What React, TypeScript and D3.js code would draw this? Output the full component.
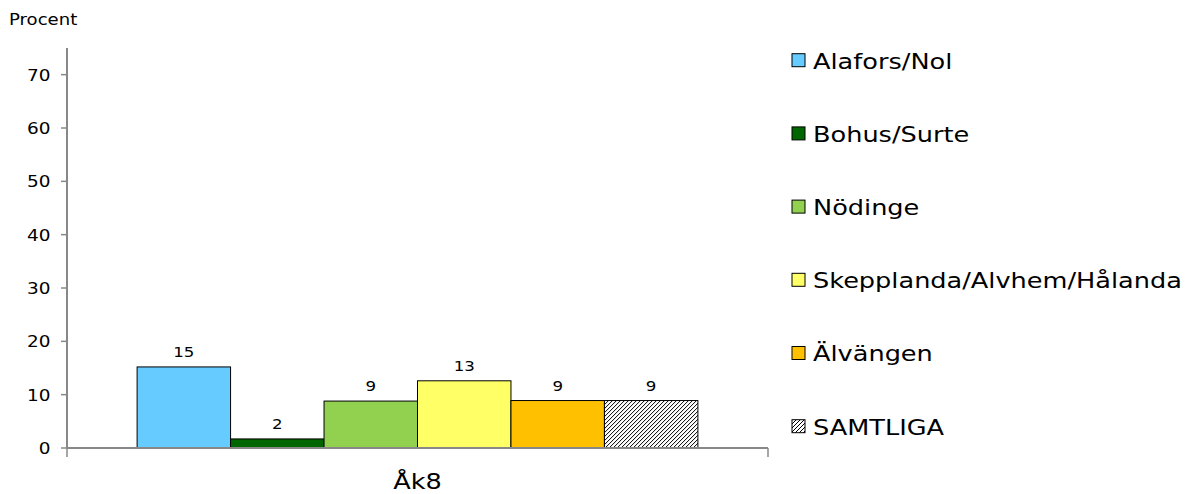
import React from "react";
import * as d3 from "d3";

const categories = ["Åk8"];
const seriesNames = ["Alafors/Nol", "Bohus/Surte", "Nödinge", "Skepplanda/Alvhem/Hålanda", "Älvängen", "SAMTLIGA"];
const seriesValues = [15.2, 1.7, 8.8, 12.6, 8.9, 8.9];
const valueLabels = ["15", "2", "9", "13", "9", "9"];
const seriesColors = ["#66CCFF", "#006600", "#92D050", "#FFFF66", "#FFC000", "url(#hatch)"];
const yTicks = [0, 10, 20, 30, 40, 50, 60, 70];

const W = 1190;
const H = 494;
const SX = 1.19;
const FONT = "'DejaVu Sans', Verdana, sans-serif";

function SText({ x, y, size, anchor = "start", children }: any) {
  return (
    <text
      transform={`translate(${x},${y}) scale(${SX},1)`}
      fontSize={size}
      fontFamily={FONT}
      textAnchor={anchor}
      fill="#000"
    >
      {children}
    </text>
  );
}

export default function App() {
  const left = 67;
  const right = 768;
  const top = 48;
  const bottom = 448;

  const y = d3.scaleLinear().domain([0, 75]).range([bottom, top]);
  const x0 = d3.scaleBand<string>().domain(categories).range([left, right]).paddingInner(0.2).paddingOuter(0.1);
  const x1 = d3.scaleBand<string>().domain(seriesNames).range([0, x0.bandwidth()]).padding(0);

  const legendX = 792;
  const legendY0 = 60.7;
  const legendStep = 73.2;

  return (
    <svg width={W} height={H} style={{ position: "absolute", left: 0, top: 0, background: "#fff" }}>
      <defs>
        <pattern id="hatch" patternUnits="userSpaceOnUse" width="4" height="4">
          <rect width="4" height="4" fill="#fff" />
          <path d="M-1,1 l2,-2 M0,4 l4,-4 M3,5 l2,-2" stroke="#000" strokeWidth="1" />
        </pattern>
      </defs>
      <rect width={W} height={H} fill="#fff" />

      <SText x={9} y={25} size={15.2}>Procent</SText>

      {/* bars */}
      {categories.map((c) => (
        <g key={c} transform={`translate(${x0(c)},0)`}>
          {seriesNames.map((s, i) => {
            const bx = x1(s)!;
            const by = y(seriesValues[i]);
            return (
              <g key={s}>
                <rect
                  x={bx}
                  y={by}
                  width={x1.bandwidth()}
                  height={bottom - by}
                  fill={seriesColors[i]}
                  stroke="#000"
                  strokeWidth={1}
                />
                <SText x={bx + x1.bandwidth() / 2} y={by - 10} size={14} anchor="middle">
                  {valueLabels[i]}
                </SText>
              </g>
            );
          })}
        </g>
      ))}

      {/* y axis */}
      <line x1={left} x2={left} y1={top} y2={bottom} stroke="#888" strokeWidth={2} />
      {yTicks.map((t) => (
        <g key={t}>
          <line x1={left - 6} x2={left} y1={y(t)} y2={y(t)} stroke="#888" strokeWidth={1.5} />
          <SText x={50.5} y={y(t) + 6} size={15.5} anchor="end">{t}</SText>
        </g>
      ))}

      {/* x axis */}
      <line x1={left} x2={right} y1={bottom} y2={bottom} stroke="#888" strokeWidth={2} />
      <line x1={left} x2={left} y1={bottom} y2={bottom + 9} stroke="#888" strokeWidth={1.5} />
      <line x1={right} x2={right} y1={bottom} y2={bottom + 9} stroke="#888" strokeWidth={1.5} />
      {categories.map((c) => (
        <SText key={c} x={x0(c)! + x0.bandwidth() / 2} y={489} size={21.5} anchor="middle">
          {c}
        </SText>
      ))}

      {/* legend */}
      {seriesNames.map((s, i) => {
        const cy = legendY0 + i * legendStep;
        return (
          <g key={s}>
            <rect x={legendX} y={cy - 7} width={13} height={13} fill={seriesColors[i]} stroke="#000" strokeWidth={1} />
            <SText x={813} y={cy + 7.8} size={21.5}>{s}</SText>
          </g>
        );
      })}
    </svg>
  );
}
